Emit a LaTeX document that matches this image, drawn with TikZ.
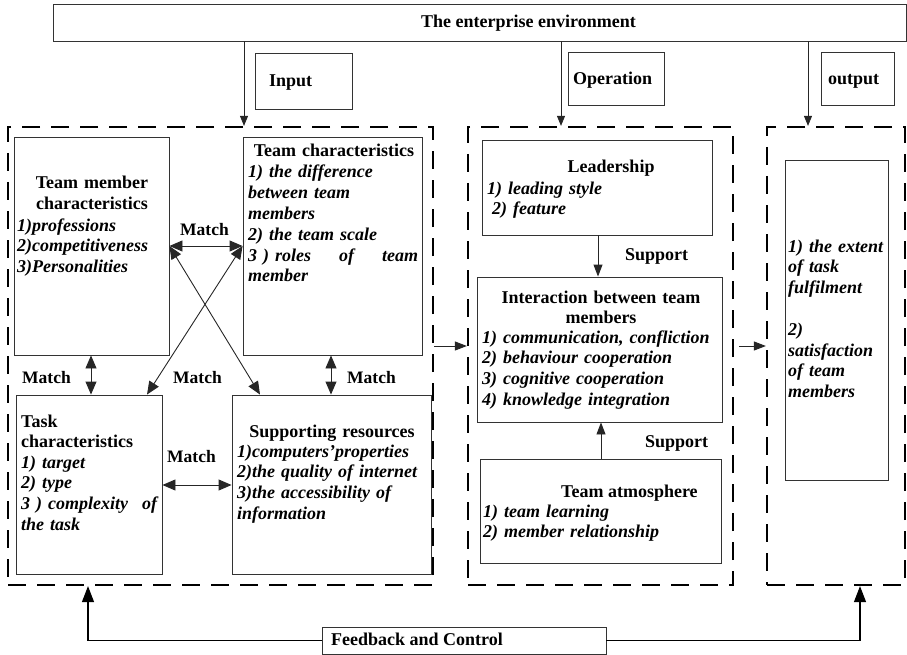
\documentclass[tikz,border=0pt]{standalone}
\usepackage{fontspec}
\setmainfont{Liberation Serif}
\usetikzlibrary{arrows.meta}
\begin{document}
\begin{tikzpicture}[x=1pt,y=-1pt,
  box/.style={draw=black!80, line width=0.9pt, inner sep=0pt},
  zone/.style={draw=black, line width=2.2pt, dash pattern=on 18pt off 11pt, inner sep=0pt},
  hd/.style={font=\fontsize{18}{20.8}\selectfont\bfseries, inner sep=0pt},
  itm/.style={font=\fontsize{18}{20.8}\selectfont\bfseries\itshape, inner sep=0pt, align=left, anchor=base west},
  lbl/.style={font=\fontsize{17.5}{20}\selectfont\bfseries, inner sep=0pt, anchor=base west},
  arr/.style={draw=black!85, line width=0.9pt, -{Triangle[length=12pt,width=9pt]}},
  envarr/.style={draw=black!85, line width=0.9pt, -{Triangle[length=10pt,width=8pt]}},
  fbarr/.style={draw=black, line width=1.2pt, -{Triangle[length=16pt,width=12pt]}},
  dbl/.style={draw=black!85, line width=0.9pt, {Triangle[length=13pt,width=11pt]}-{Triangle[length=13pt,width=11pt]}},
]
\useasboundingbox (0,0) rectangle (907,655);

% environment and phase labels
\node[box, minimum width=853, minimum height=37] (env) at (479.5,22.5) {};
\node[hd, anchor=base west] (envt) at (421,28) {The enterprise environment};
\node[box, minimum width=97, minimum height=56] (inbox) at (303.5,81) {};
\node[hd, anchor=base west] (intext) at (269,87) {Input};
\node[box, minimum width=96, minimum height=53] (opbox) at (616,78.5) {};
\node[hd, anchor=base west] (optext) at (573,85) {Operation};
\node[box, minimum width=73, minimum height=53] (outbox) at (857.5,78.5) {};
\node[hd, anchor=base west] (outtext) at (828,85) {output};

% the three phases
\node[zone, minimum width=425, minimum height=458] (z1) at (220.5,356) {};
\node[zone, minimum width=265, minimum height=458] (z2) at (600.5,356) {};
\node[zone, minimum width=138, minimum height=458] (z3) at (836,356) {};

% input phase
\node[box, minimum width=155, minimum height=218] (tm) at (91.5,246) {};
\node[hd, text width=150, align=center, anchor=base] (tmh) at (92,189) {Team member\\characteristics};
\node[itm, text width=150] (tmi) at (17,231) {1)professions\\2)competitiveness\\3)Personalities};

\node[box, minimum width=179, minimum height=218] (tc) at (332.5,246) {};
\node[hd, text width=175, align=center, anchor=base] (tch) at (334,157) {Team characteristics};
\node[itm, text width=172] (tci) at (248,178) {1) the difference\\between team\\members\\2) the team scale\\\leavevmode\hbox to 170pt{3 ) roles\hfill of\hfill team}\\member};

\node[box, minimum width=146, minimum height=179] (task) at (89,484.5) {};
\node[hd, text width=140, align=left, anchor=base west] (taskh) at (21,427) {Task\\characteristics};
\node[itm, text width=140] (taski) at (21,468) {1) target\\2) type\\\leavevmode\hbox to 136pt{3 ) complexity\hfill of}\\the task};

\node[box, minimum width=199, minimum height=179] (sr) at (331.5,484.5) {};
\node[hd, text width=195, align=center, anchor=base] (srh) at (332,437) {Supporting resources};
\node[itm, text width=195] (sri) at (237,457) {1)computers’properties\\2)the quality of internet\\3)the accessibility of\\information};

% operation phase
\node[box, minimum width=230, minimum height=95] (lead) at (597,187.5) {};
\node[hd, anchor=base] (leadh) at (611,173) {Leadership};
\node[itm, text width=200] (leadi) at (487,194) {1) leading style\\\hspace*{5pt}2) feature};

\node[box, minimum width=245, minimum height=145] (inter) at (599.5,349.5) {};
\node[hd, text width=240, align=center, anchor=base] (interh) at (601,303) {Interaction between team\\members};
\node[itm, text width=240] (interi) at (482,343) {1) communication, confliction\\2) behaviour cooperation\\3) cognitive cooperation\\4) knowledge integration};

\node[box, minimum width=241, minimum height=104] (atmo) at (600.5,511) {};
\node[hd, anchor=base west] (atmoh) at (561,497) {Team atmosphere};
\node[itm, text width=235] (atmoi) at (483,517) {1) team learning\\2) member relationship};

% output phase
\node[box, minimum width=103, minimum height=320] (res) at (836.5,320) {};
\node[itm, text width=100] (resi) at (788,252) {1) the extent\\of task\\fulfilment\\[20.8pt]2)\\satisfaction\\of team\\members};

% feedback
\node[box, minimum width=284, minimum height=27] (fb) at (464,640.5) {};
\node[hd, anchor=base west] (fbt) at (331,645) {Feedback and Control};

% connector labels
\node[lbl] (m1) at (180,235) {Match};
\node[lbl] (m2) at (22,383) {Match};
\node[lbl] (m3) at (173,383) {Match};
\node[lbl] (m4) at (347,383) {Match};
\node[lbl] (m5) at (167,462) {Match};
\node[hd, anchor=base west] (s1) at (625,260) {Support};
\node[hd, anchor=base west] (s2) at (645,447) {Support};

% helper coordinates for connector positions
\coordinate (xa) at (244,0);
\coordinate (xb) at (561,0);
\coordinate (xc) at (808,0);
\coordinate (ym) at (0,246);
\coordinate (xl) at (91,0);
\coordinate (xr) at (331,0);
\coordinate (xs) at (260,0);
\coordinate (xt) at (147,0);
\coordinate (yb) at (0,485);
\coordinate (yf) at (0,346);
\coordinate (z2o) at ([xshift=5pt]z2.east);
\coordinate (xs1) at (598,0);
\coordinate (xs2) at (601,0);
\coordinate (xf1) at (88,0);
\coordinate (xf2) at (860,0);

% environment influences
\draw[envarr] (env.south -| xa) -- (z1.north -| xa);
\draw[envarr] (env.south -| xb) -- (z2.north -| xb);
\draw[envarr] (env.south -| xc) -- (z3.north -| xc);

% matches
\draw[dbl] (tm.east |- ym) -- (tc.west |- ym);
\draw[dbl] (tm.east |- ym) -- (sr.north -| xs);
\draw[dbl] (tc.west |- ym) -- (task.north -| xt);
\draw[dbl] (tm.south -| xl) -- (task.north -| xl);
\draw[dbl] (tc.south -| xr) -- (sr.north -| xr);
\draw[dbl] (task.east |- yb) -- (sr.west |- yb);

% flow between phases
\draw[arr] (z1.east |- yf) -- (z2.west |- yf);
\draw[arr] (z2o |- yf) -- (z3.west |- yf);

% support
\draw[arr] (lead.south -| xs1) -- (inter.north -| xs1);
\draw[arr] (atmo.north -| xs2) -- (inter.south -| xs2);

% feedback and control
\draw[fbarr] (fb.west) -| (z1.south -| xf1);
\draw[fbarr] (fb.east) -| (z3.south -| xf2);
\end{tikzpicture}
\end{document}
